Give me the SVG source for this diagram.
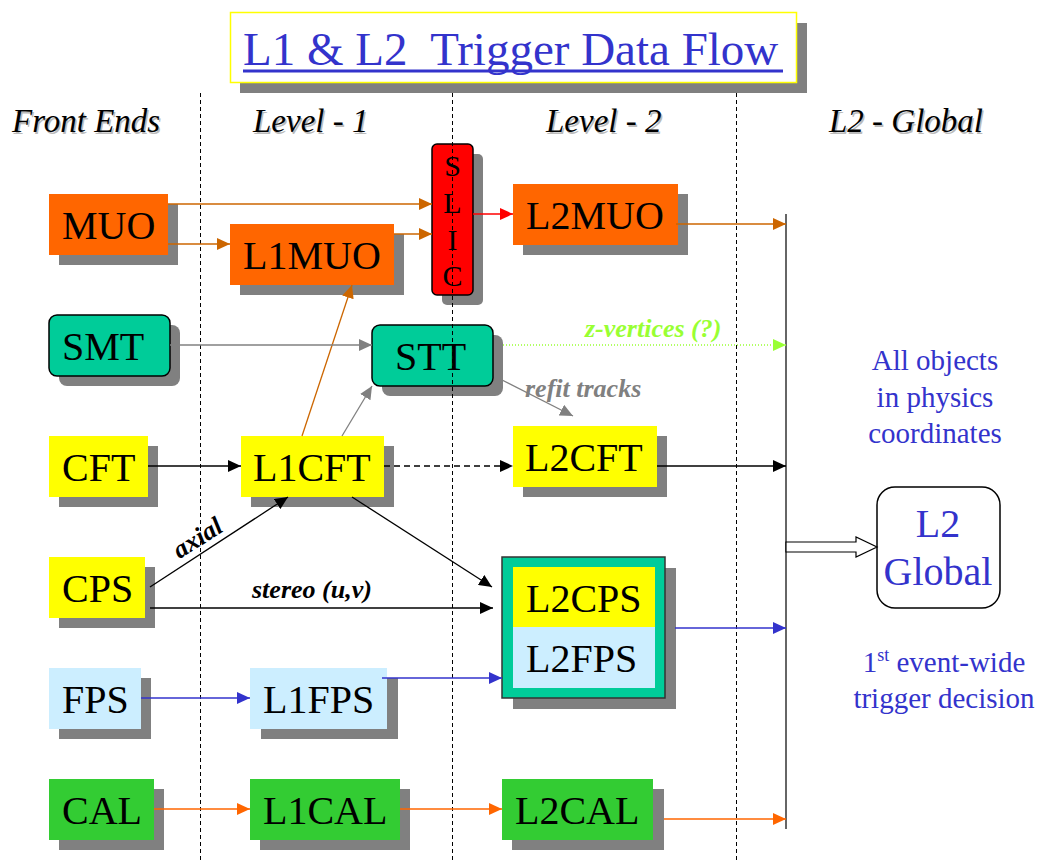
<svg xmlns="http://www.w3.org/2000/svg" width="1041" height="863" viewBox="0 0 1041 863">
<defs>
  <marker id="a-odk" markerUnits="userSpaceOnUse" markerWidth="13" markerHeight="12" refX="13" refY="6" orient="auto"><path d="M0,0 L13,6 L0,12 Z" fill="#cc6600"/></marker>
  <marker id="a-or" markerUnits="userSpaceOnUse" markerWidth="13" markerHeight="12" refX="13" refY="6" orient="auto"><path d="M0,0 L13,6 L0,12 Z" fill="#ff6600"/></marker>
  <marker id="a-red" markerUnits="userSpaceOnUse" markerWidth="13" markerHeight="12" refX="13" refY="6" orient="auto"><path d="M0,0 L13,6 L0,12 Z" fill="#ff0000"/></marker>
  <marker id="a-blk" markerUnits="userSpaceOnUse" markerWidth="13" markerHeight="12" refX="13" refY="6" orient="auto"><path d="M0,0 L13,6 L0,12 Z" fill="#000000"/></marker>
  <marker id="a-gry" markerUnits="userSpaceOnUse" markerWidth="13" markerHeight="12" refX="13" refY="6" orient="auto"><path d="M0,0 L13,6 L0,12 Z" fill="#808080"/></marker>
  <marker id="a-grn" markerUnits="userSpaceOnUse" markerWidth="13" markerHeight="12" refX="13" refY="6" orient="auto"><path d="M0,0 L13,6 L0,12 Z" fill="#99ff33"/></marker>
  <marker id="a-blu" markerUnits="userSpaceOnUse" markerWidth="13" markerHeight="12" refX="13" refY="6" orient="auto"><path d="M0,0 L13,6 L0,12 Z" fill="#3333cc"/></marker>
</defs>
<style>
  .sh{fill:#808080}
  .lbl{font-family:"Liberation Serif","Times New Roman",serif;font-size:40px;fill:#000}
  .hdr{font-family:"Liberation Serif","Times New Roman",serif;font-style:italic;font-size:33px;fill:#000}
  .hdrs{font-family:"Liberation Serif","Times New Roman",serif;font-style:italic;font-size:33px;fill:#bbbbbb}
  .note{font-family:"Liberation Serif","Times New Roman",serif;font-style:italic;font-weight:bold;font-size:26px}
  .bt{font-family:"Liberation Serif","Times New Roman",serif;font-size:29px;fill:#3333cc}
  .sep{stroke:#000;stroke-width:1;stroke-dasharray:4 3;fill:none}
  .c{fill:none;stroke-width:1.3}
  .odk{stroke:#cc6600;marker-end:url(#a-odk)}
  .or{stroke:#ff6600;marker-end:url(#a-or)}
  .red{stroke:#ff0000;marker-end:url(#a-red)}
  .blk{stroke:#000;marker-end:url(#a-blk)}
  .gry{stroke:#808080;marker-end:url(#a-gry)}
  .grn{stroke:#99ff33;stroke-dasharray:1 2;marker-end:url(#a-grn)}
  .blu{stroke:#3333cc;marker-end:url(#a-blu)}
</style>
<rect width="1041" height="863" fill="#ffffff"/>

<g id="title">
  <rect x="240" y="23" width="567" height="70" fill="#808080"/>
  <rect x="230.5" y="12.5" width="566" height="70" fill="#ffffff" stroke="#ffff00" stroke-width="1.5"/>
  <text x="243" y="65" style="font-family:'Liberation Serif','Times New Roman',serif;font-size:47px;fill:#3333cc;white-space:pre" xml:space="preserve">L1 &amp; L2  Trigger Data Flow</text>
  <rect x="243" y="69.5" width="540" height="3" fill="#3333cc"/>
</g>

<g id="headers">
  <text class="hdrs" x="13.5" y="133.5">Front Ends</text>
  <text class="hdr" x="12" y="132">Front Ends</text>
  <text class="hdrs" x="254.5" y="133.5">Level - 1</text>
  <text class="hdr" x="253" y="132">Level - 1</text>
  <text class="hdrs" x="547.5" y="133.5">Level - 2</text>
  <text class="hdr" x="546" y="132">Level - 2</text>
  <text class="hdrs" x="830.5" y="133.5">L2 - Global</text>
  <text class="hdr" x="829" y="132">L2 - Global</text>
</g>

<g id="MUO">
  <rect class="sh" x="59" y="204" width="119" height="61"/>
  <rect x="49" y="194" width="119" height="61" fill="#ff6600"/>
  <text class="lbl" x="62" y="239">MUO</text>
</g>
<g id="L1MUO">
  <rect class="sh" x="240" y="234" width="164" height="61"/>
  <rect x="230" y="224" width="164" height="61" fill="#ff6600"/>
  <text class="lbl" x="243" y="269">L1MUO</text>
</g>
<g id="SLIC">
  <rect class="sh" x="442" y="154" width="41" height="151" rx="5"/>
  <rect x="432" y="144" width="41" height="151" rx="5" fill="#ff0000" stroke="#000" stroke-width="1.5"/>
  <g style="font-family:'Liberation Serif','Times New Roman',serif;font-size:30px;fill:#000" text-anchor="middle">
    <text x="452.5" y="176">S</text>
    <text x="452.5" y="213">L</text>
    <text x="452.5" y="250">I</text>
    <text x="452.5" y="286">C</text>
  </g>
</g>
<g id="L2MUO">
  <rect class="sh" x="523" y="194" width="165" height="61"/>
  <rect x="513" y="184" width="165" height="61" fill="#ff6600"/>
  <text class="lbl" x="526" y="229">L2MUO</text>
</g>
<g id="SMT">
  <rect class="sh" x="59" y="325" width="121" height="61" rx="8"/>
  <rect x="49" y="315" width="121" height="61" rx="8" fill="#00cc99" stroke="#000" stroke-width="1.5"/>
  <text class="lbl" x="62" y="360">SMT</text>
</g>
<g id="STT">
  <rect class="sh" x="382" y="335" width="121" height="61" rx="8"/>
  <rect x="372" y="325" width="121" height="61" rx="8" fill="#00cc99" stroke="#000" stroke-width="1.5"/>
  <text class="lbl" x="395" y="370">STT</text>
</g>
<g id="CFT">
  <rect class="sh" x="59" y="446" width="99" height="61"/>
  <rect x="49" y="436" width="99" height="61" fill="#ffff00"/>
  <text class="lbl" x="62" y="481">CFT</text>
</g>
<g id="L1CFT">
  <rect class="sh" x="251" y="446" width="143" height="61"/>
  <rect x="241" y="436" width="143" height="61" fill="#ffff00"/>
  <text class="lbl" x="253" y="481">L1CFT</text>
</g>
<g id="L2CFT">
  <rect class="sh" x="523" y="436" width="144" height="61"/>
  <rect x="513" y="426" width="144" height="61" fill="#ffff00"/>
  <text class="lbl" x="525" y="471">L2CFT</text>
</g>
<g id="CPS">
  <rect class="sh" x="59" y="567" width="96" height="61"/>
  <rect x="49" y="557" width="96" height="61" fill="#ffff00"/>
  <text class="lbl" x="62" y="602">CPS</text>
</g>
<g id="L2CPS_L2FPS">
  <rect class="sh" x="513" y="568" width="163" height="141"/>
  <rect x="502" y="557" width="163" height="141" fill="#00cc99" stroke="#333" stroke-width="1.5"/>
  <rect x="513" y="567" width="142" height="60" fill="#ffff00"/>
  <rect x="513" y="627" width="142" height="61" fill="#cceeff"/>
  <text class="lbl" x="526" y="612">L2CPS</text>
  <text class="lbl" x="526" y="672">L2FPS</text>
</g>
<g id="FPS">
  <rect class="sh" x="59" y="678" width="92" height="61"/>
  <rect x="49" y="668" width="92" height="61" fill="#cceeff"/>
  <text class="lbl" x="62" y="713">FPS</text>
</g>
<g id="L1FPS">
  <rect class="sh" x="261" y="678" width="137" height="61"/>
  <rect x="250" y="668" width="137" height="61" fill="#cceeff"/>
  <text class="lbl" x="263" y="713">L1FPS</text>
</g>
<g id="CAL">
  <rect class="sh" x="59" y="789" width="105" height="61"/>
  <rect x="49" y="779" width="105" height="61" fill="#33cc33"/>
  <text class="lbl" x="62" y="824">CAL</text>
</g>
<g id="L1CAL">
  <rect class="sh" x="260" y="789" width="150" height="61"/>
  <rect x="250" y="779" width="150" height="61" fill="#33cc33"/>
  <text class="lbl" x="263" y="824">L1CAL</text>
</g>
<g id="L2CAL">
  <rect class="sh" x="512" y="789" width="152" height="61"/>
  <rect x="502" y="779" width="151" height="61" fill="#33cc33"/>
  <text class="lbl" x="515" y="824">L2CAL</text>
</g>
<g id="L2Global">
  <rect x="877" y="487" width="123" height="121" rx="18" fill="#ffffff" stroke="#000" stroke-width="1.5"/>
  <text class="bt" x="938" y="537" text-anchor="middle" style="font-size:40px">L2</text>
  <text class="bt" x="938" y="585" text-anchor="middle" style="font-size:40px">Global</text>
</g>

<g id="separators">
  <line class="sep" x1="200.5" y1="93" x2="200.5" y2="863"/>
  <line class="sep" x1="452.5" y1="93" x2="452.5" y2="863"/>
  <line class="sep" x1="736.5" y1="93" x2="736.5" y2="863"/>
</g>

<g id="connectors">
  <line x1="786" y1="214" x2="786" y2="829" stroke="#333" stroke-width="1.5"/>
  <path class="c odk" d="M168,204 H432"/>
  <path class="c odk" d="M168,244 H230"/>
  <path class="c odk" d="M394,234 H432"/>
  <path class="c red" d="M473,214 H513"/>
  <path class="c odk" d="M676,224 H786"/>
  <path class="c odk" d="M302,436 L352,285"/>
  <path class="c gry" d="M170,345 H372"/>
  <path class="c gry" d="M342,436 L372,386"/>
  <path class="c gry" d="M500,379 L573,416"/>
  <path class="c grn" d="M503,345 H786"/>
  <path class="c blk" d="M148,466 H241"/>
  <path class="c blk" d="M384,466 H513" stroke-dasharray="6 4"/>
  <path class="c blk" d="M657,466 H786"/>
  <path class="c blk" d="M352,497 L492,587"/>
  <path class="c blk" d="M150,587 L288,497"/>
  <path class="c blk" d="M150,608 H493"/>
  <path class="c blu" d="M675,628 H786"/>
  <path class="c blu" d="M141,698 H250"/>
  <path class="c blu" d="M382,678 H502"/>
  <path class="c or" d="M154,809 H250"/>
  <path class="c or" d="M400,809 H502"/>
  <path class="c or" d="M664,819 H786"/>
  <path d="M786,542 H856 V537 L877,547 L856,557 V552 H786 Z" fill="#ffffff" stroke="#000" stroke-width="1.2"/>
</g>

<g id="labels">
  <text class="note" x="585" y="337" fill="#99ff33">z-vertices (?)</text>
  <text class="note" x="525" y="397" fill="#808080">refit tracks</text>
  <text class="note" x="252" y="598" fill="#000">stereo (u,v)</text>
  <text class="note" x="202" y="545" fill="#000" text-anchor="middle" transform="rotate(-32.4 202 545)">axial</text>
  <text class="bt" x="935" y="370" text-anchor="middle">All objects</text>
  <text class="bt" x="935" y="407" text-anchor="middle">in physics</text>
  <text class="bt" x="935" y="443" text-anchor="middle">coordinates</text>
  <text class="bt" x="944" y="672" text-anchor="middle">1<tspan style="font-size:18px" dy="-11">st</tspan><tspan dy="11"> event-wide</tspan></text>
  <text class="bt" x="944" y="708" text-anchor="middle">trigger decision</text>
</g>
</svg>
